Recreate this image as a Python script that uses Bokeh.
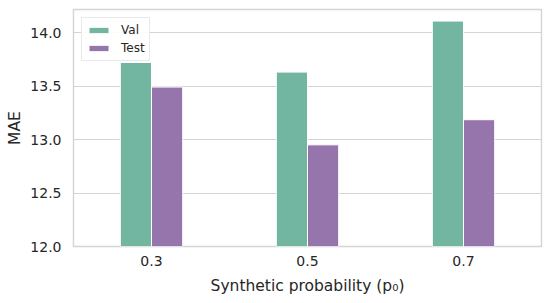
from bokeh.plotting import figure
from bokeh.models import ColumnDataSource, FactorRange, Range1d, FixedTicker, Legend, LegendItem
from bokeh.transform import dodge
from bokeh.embed import file_html
from bokeh.resources import INLINE

categories = ["0.3", "0.5", "0.7"]
val_mae = [13.72, 13.63, 14.107]
test_mae = [13.49, 12.95, 13.185]
y_ticks = [12.0, 12.5, 13.0, 13.5, 14.0]
y_tick_labels = ["12.0", "12.5", "13.0", "13.5", "14.0"]
series_names = ["Val", "Test"]
series_colors = ["#72b5a0", "#9675ad"]

src = ColumnDataSource(dict(cat=categories, val=val_mae, test=test_mae))

p = figure(x_range=FactorRange(*categories), y_range=Range1d(12.0, 14.215),
           width=550, height=303,
           min_border_left=73, min_border_right=9, min_border_top=9, min_border_bottom=57,
           output_backend="svg", toolbar_location=None)

r1 = p.vbar(x=dodge("cat", -0.1, range=p.x_range), top="val", bottom=12.0, width=0.2,
            source=src, fill_color=series_colors[0], line_color="white", line_width=1)
r2 = p.vbar(x=dodge("cat", 0.1, range=p.x_range), top="test", bottom=12.0, width=0.2,
            source=src, fill_color=series_colors[1], line_color="white", line_width=1)

text_color = "#262626"
font = "DejaVu Sans"

p.xgrid.grid_line_color = None
p.ygrid.grid_line_color = "#d4d4d4"
p.ygrid.grid_line_width = 1.2
p.outline_line_color = "#d4d4d4"
p.outline_line_width = 1.4

p.yaxis.ticker = FixedTicker(ticks=y_ticks)
p.yaxis.major_label_overrides = {t: l for t, l in zip(y_ticks, y_tick_labels)}

for ax in (p.xaxis[0], p.yaxis[0]):
    ax.axis_line_color = None
    ax.major_tick_line_color = None
    ax.minor_tick_line_color = None
    ax.major_tick_out = 0
    ax.major_tick_in = 0
    ax.major_label_text_font = font
    ax.major_label_text_font_size = "14px"
    ax.major_label_text_color = text_color
    ax.major_label_text_line_height = 1.0
    ax.axis_label_text_font = font
    ax.axis_label_text_font_size = "15.5px"
    ax.axis_label_text_font_style = "normal"
    ax.axis_label_text_color = text_color
    ax.axis_label_text_line_height = 1.0

p.yaxis.major_label_standoff = 12
p.yaxis.axis_label = "MAE"
p.yaxis.axis_label_standoff = 3
p.xaxis.major_label_standoff = 9
p.xaxis.axis_label = "Synthetic probability (p\u2080)"
p.xaxis.axis_label_standoff = 8

legend = Legend(items=[LegendItem(label=series_names[0], renderers=[r1]),
                       LegendItem(label=series_names[1], renderers=[r2])],
                location="top_left", margin=8, padding=4, spacing=2,
                glyph_width=25, glyph_height=8, label_height=16, label_standoff=10,
                label_text_font=font, label_text_font_size="12px", label_text_color=text_color,
                border_line_color="#d4d4d4", border_line_width=1, background_fill_alpha=0.9)
p.add_layout(legend)

open("out.html", "w").write(file_html(p, INLINE))
